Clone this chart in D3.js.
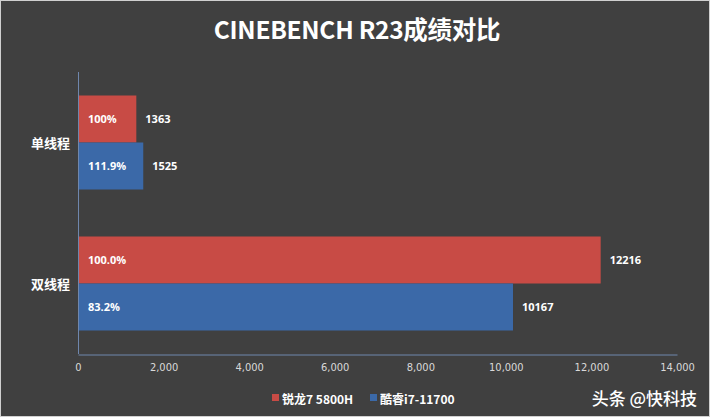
<!DOCTYPE html>
<html><head><meta charset="utf-8">
<script src="https://cdn.jsdelivr.net/npm/d3@7/dist/d3.min.js"></script>
<style>
html,body{margin:0;padding:0;background:#404040;}
svg{display:block;}
</style></head>
<body>
<script>
const categories = ["单线程", "双线程"];
const seriesNames = ["锐龙7 5800H", "酷睿i7-11700"];
const ryzen = [1363, 12216];
const intel = [1525, 10167];
const ryzenPct = ["100%", "100.0%"];
const intelPct = ["111.9%", "83.2%"];
const xTicks = [0, 2000, 4000, 6000, 8000, 10000, 12000, 14000];
const colors = ["#C84B45", "#3B69A8"];

const W = 710, H = 417;
const svg = d3.select("body").append("svg").attr("width", W).attr("height", H);
svg.append("rect").attr("x",0.5).attr("y",0.5).attr("width",W-1).attr("height",H-1)
  .attr("fill","#404040").attr("stroke","#d0d0d0").attr("stroke-width",1);

const cjk = "'Noto Sans CJK SC','Microsoft YaHei',sans-serif";
svg.append("text").attr("x", 357).attr("y", 39).attr("text-anchor","middle")
  .attr("fill","#ffffff").attr("font-family", cjk).attr("font-weight","bold")
  .attr("font-size", 24.5).attr("letter-spacing","-0.3px").text("CINEBENCH R23成绩对比");

const pLeft = 78, pRight = 677, pTop = 72, pBottom = 354;
const x = d3.scaleLinear().domain([0, 14000]).range([pLeft, pRight]);
const y = d3.scaleBand().domain(categories).range([pTop, pBottom]).paddingInner(1/3).paddingOuter(1/6);
const sub = d3.scaleBand().domain([0,1]).range([0, y.bandwidth()]);

const series = [ryzen, intel];
const pcts = [ryzenPct, intelPct];

categories.forEach((c, ci) => {
  series.forEach((vals, si) => {
    const y0 = y(c) + sub(si);
    svg.append("rect").attr("x", x(0)).attr("y", y0).attr("width", x(vals[ci]) - x(0))
      .attr("height", sub.bandwidth()).attr("fill", colors[si]);
    svg.append("text").attr("x", x(0) + 10).attr("y", y0 + sub.bandwidth()/2 + 4)
      .attr("fill","#ffffff").attr("font-family","'Open Sans',sans-serif").attr("font-weight","bold")
      .attr("font-size", 11).text(pcts[si][ci]);
    svg.append("text").attr("x", x(vals[ci]) + 9).attr("y", y0 + sub.bandwidth()/2 + 4)
      .attr("fill","#ffffff").attr("font-family","'Open Sans',sans-serif").attr("font-weight","bold")
      .attr("font-size", 11).text(vals[ci]);
  });
  svg.append("text").attr("x", 70).attr("y", y(c) + y.bandwidth()/2 + 5).attr("text-anchor","end")
    .attr("fill","#ffffff").attr("font-family", cjk).attr("font-weight","bold")
    .attr("font-size", 13).text(c);
});

// axes
svg.append("line").attr("x1", pLeft+0.5).attr("x2", pLeft+0.5).attr("y1", pTop).attr("y2", pBottom)
  .attr("stroke","#6f87ad").attr("stroke-width",1);
const xAxis = d3.axisBottom(x).tickValues(xTicks).tickSize(0).tickPadding(9).tickFormat(d3.format(","));
const gx = svg.append("g").attr("transform", `translate(0,${pBottom+0.5})`).call(xAxis);
gx.select(".domain").attr("stroke","#6f87ad");
gx.selectAll("text").attr("fill","#d9d9d9").attr("font-family","'Liberation Sans Narrow','DejaVu Sans Condensed',sans-serif")
  .attr("font-size", 11);

// legend
const legend = [{x:272, tx:282}, {x:370, tx:380}];
seriesNames.forEach((n, i) => {
  svg.append("rect").attr("x", legend[i].x).attr("y", 394).attr("width", 7).attr("height", 7).attr("fill", colors[i]);
  svg.append("text").attr("x", legend[i].tx).attr("y", 404).attr("fill","#ffffff")
    .attr("font-family", cjk).attr("font-weight","bold").attr("font-size", 12).text(n);
});

svg.append("text").attr("x", 697).attr("y", 405).attr("text-anchor","end").attr("fill","#ffffff")
  .attr("font-family", cjk).attr("font-weight", 500).attr("font-size", 17).text("头条 @快科技");
</script>
</body></html>
